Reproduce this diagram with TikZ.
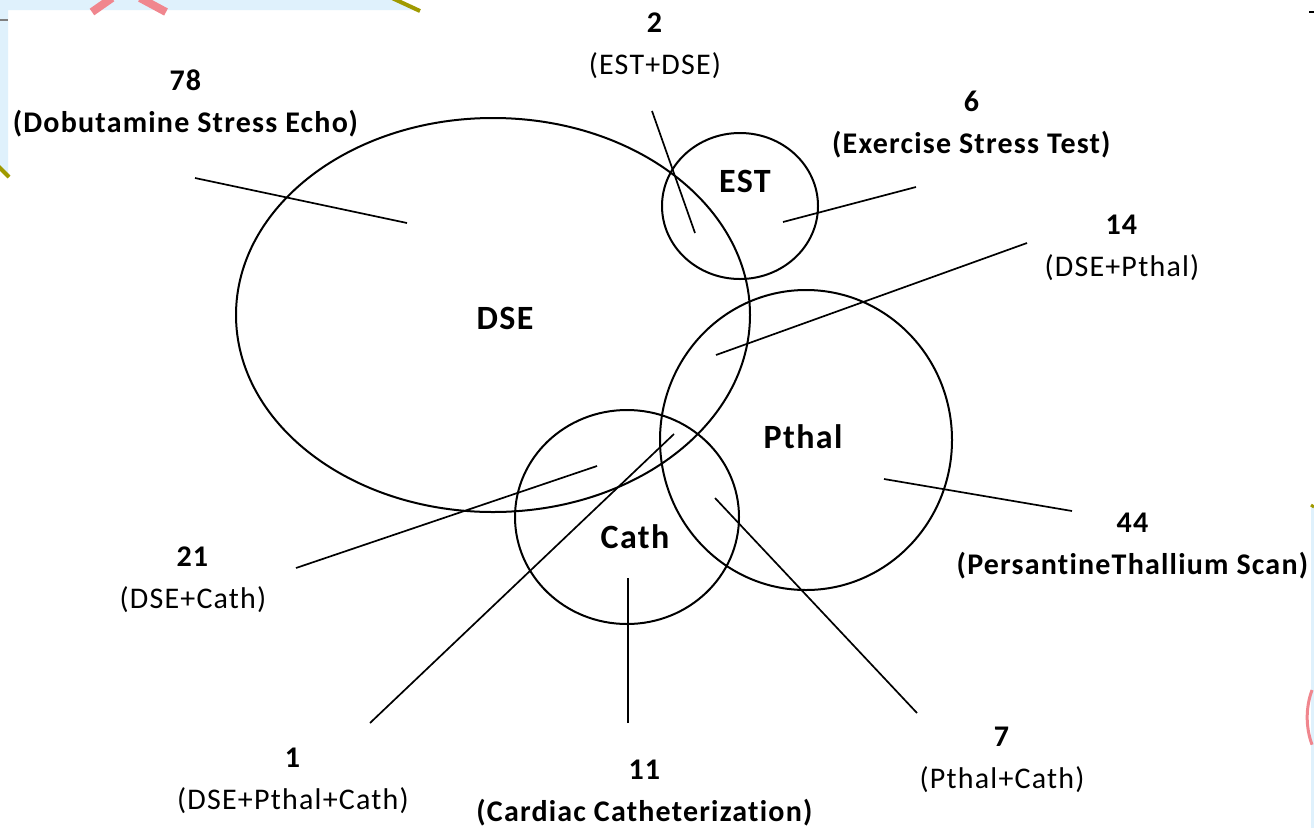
\documentclass[tikz,border=0pt]{standalone}
\usepackage{fontspec}
\setmainfont{Carlito}[LetterSpace=4, Ligatures=NoCommon]
\usetikzlibrary{positioning}
\definecolor{slideblue}{HTML}{DFF1FC}
\definecolor{slideolive}{HTML}{A09A00}
\definecolor{slidepink}{HTML}{F0868E}

\begin{document}
\begin{tikzpicture}[x=1pt, y=-1pt,
    setshape/.style={draw, line width=2pt},
    setname/.style={font=\fontsize{34}{40}\selectfont\bfseries},
    cnt/.style={align=center, inner sep=0pt, font=\fontsize{30}{42}\selectfont},
    lead/.style={draw, line width=1.7pt}
]
    % page and slide remnants
    \useasboundingbox (0,0) rectangle (1314,828);
    \fill[white] (0,0) rectangle (1314,828);
    \fill[slideblue] (0,0) -- (400,0) -- (418,10) -- (8,10) -- (8,176) -- (0,170) -- cycle;
    \fill[slideblue] (1311,505) rectangle (1314,828);
    \draw[slideolive, line width=4pt] (392,-2) -- (420,11);
    \draw[slideolive, line width=4pt] (-2,166) -- (9,177);
    \draw[slideolive, line width=3pt] (1311,505) -- (1314,507);
    \draw[slidepink, line width=8pt] (92,12) -- (112,-2);
    \draw[slidepink, line width=8pt] (140,-2) -- (166,12);
    \draw[slidepink, line width=3pt] (1312,690) arc[start angle=200, end angle=160, radius=80];
    \draw[gray, line width=1.2pt] (0,20) -- (8,20);
    \draw[black, line width=1.4pt] (1309,12) -- (1314,12);

    % sets
    \draw[setshape] (493,315) ellipse [x radius=257, y radius=197];
    \draw[setshape] (740,206) ellipse [x radius=78, y radius=73];
    \draw[setshape] (806,440) ellipse [x radius=146, y radius=150];
    \draw[setshape] (627,517) ellipse [x radius=112, y radius=107];

    \node[setname] (dse) at (505,318) {DSE};
    \node[setname] (est) at (745,181) {EST};
    \node[setname] (pthal) at (803,437) {Pthal};
    \node[setname] (cath) at (635,537) {Cath};

    % counts
    \node[cnt] (n78) at (186,103) {\textbf{78}\\\textbf{(Dobutamine Stress Echo)}};
    \node[cnt] (n2) at (655,46) {\textbf{2}\\(EST+DSE)};
    \node[cnt] (n6) at (972,125) {\textbf{6}\\\textbf{(Exercise Stress Test)}};
    \node[cnt] (n14) at (1122,248) {\textbf{14}\\(DSE+Pthal)};
    \node[cnt] (n44) at (1133,546) {\textbf{44}\\\textbf{(PersantineThallium Scan)}};
    \node[cnt] (n21) at (193,580) {\textbf{21}\\(DSE+Cath)};
    \node[cnt] (n1) at (293,781) {\textbf{1}\\(DSE+Pthal+Cath)};
    \node[cnt] (n11) at (645,793) {\textbf{11}\\\textbf{(Cardiac Catheterization)}};
    \node[cnt] (n7) at (1002,760) {\textbf{7}\\(Pthal+Cath)};

    % leader ends
    \coordinate (a78) at (195,178);  \coordinate (b78) at (407,223);
    \coordinate (a2) at (652,111);   \coordinate (b2) at (695,233);
    \coordinate (a6) at (916,187);   \coordinate (b6) at (783,222);
    \coordinate (a14) at (1027,243); \coordinate (b14) at (716,355);
    \coordinate (a44) at (1072,511); \coordinate (b44) at (884,479);
    \coordinate (a21) at (296,568);  \coordinate (b21) at (597,466);
    \coordinate (a1) at (370,723);   \coordinate (b1) at (674,434);
    \coordinate (a11) at (628,723);  \coordinate (b11) at (628,578);
    \coordinate (a7) at (917,713);   \coordinate (b7) at (715,498);

    \foreach \k in {78,2,6,14,44,21,1,11,7}
        \draw[lead] (a\k) -- (b\k);
\end{tikzpicture}
\end{document}
